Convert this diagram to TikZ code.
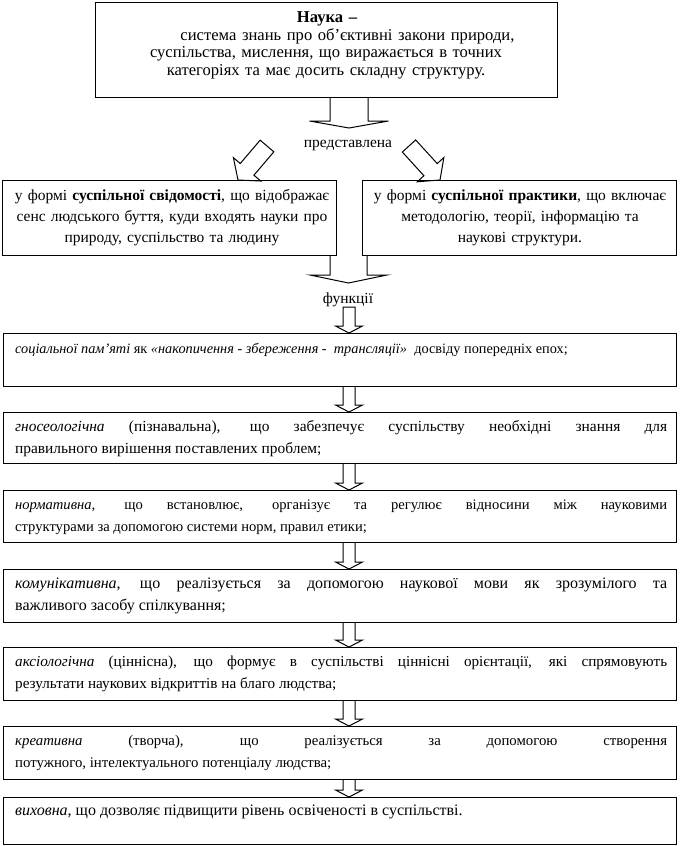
\documentclass[tikz,border=0pt]{standalone}
\usepackage{fontspec}
\setmainfont{Liberation Serif}
\usetikzlibrary{calc}
\newcommand\blockarr[6]{%
  \coordinate (bahead) at ($(#2)!#5!(#1)$);
  \draw[blk] ($(#1)!#3!90:(#2)$) -- ($(bahead)!#3!90:(#2)$) -- ($(bahead)!#4!90:(#2)$) -- (#2) -- ($(bahead)!#4!-90:(#2)$) -- ($(bahead)!#3!-90:(#2)$) -- ($(#1)!#3!-90:(#2)$) #6;
}
\newcommand\fs[1]{\fontsize{#1}{22}\selectfont}
\tikzset{
  frame/.style={draw, line width=1.1pt, inner sep=0pt, anchor=north west},
  blk/.style={draw, line width=1pt, line join=miter},
  ftxt/.style={inner sep=0pt, anchor=base west, text width=652pt, align=justify, font=\fontsize{14.5}{22}\selectfont},
  mtxt/.style={inner sep=0pt, anchor=base, text width=330pt, align=center, font=\fontsize{15.5}{21}\selectfont},
  ttxt/.style={inner sep=0pt, anchor=base, text width=460pt, align=center, font=\fontsize{16.6}{17.5}\selectfont},
  lbl/.style={inner sep=0pt, font=\fontsize{15.5}{18}\selectfont},
}
\begin{document}
\begin{tikzpicture}[x=1pt,y=-1pt]
\useasboundingbox (0,0) rectangle (682,846);
% top box
\node[frame, minimum width=462pt, minimum height=95pt] (nauka) at (95,2) {};
\node[ttxt, font=\fontsize{16.6}{17.5}\selectfont\bfseries] (naukah) at (327,22) {Наука –};
\node[ttxt] (naukab) at (326,40) {\hspace*{43pt}система знань про об'єктивні закони природи,\\суспільства, мислення, що виражається в точних\\категоріях та має досить складну структуру.};
\coordinate (a0s) at (349,97);
\coordinate (a0e) at (349,128);
\blockarr{a0s}{a0e}{19pt}{39.5pt}{7pt}{}
\node[lbl] (pred) at (348,145) {представлена};
% diagonal arrows
\coordinate (dls) at (267,146);
\coordinate (dle) at (238,180);
\blockarr{dls}{dle}{9pt}{18pt}{14pt}{-- cycle}
\coordinate (drs) at (409,146);
\coordinate (dre) at (440,180);
\blockarr{drs}{dre}{9pt}{18pt}{14pt}{-- cycle}
% middle boxes
\node[frame, minimum width=334pt, minimum height=75pt] (svid) at (2,180) {};
\node[mtxt] (svidt) at (172,200) {у формі \textbf{суспільної свідомості}, що відображає\\сенс людського буття, куди входять науки про\\природу, суспільство та людину};
\node[frame, minimum width=314pt, minimum height=75pt] (prak) at (362,180) {};
\node[mtxt] (prakt) at (520,200) {у формі \textbf{суспільної практики}, що включає\\методологію, теорії, інформацію та\\наукові структури.};
\coordinate (a1s) at (348.5,255);
\coordinate (a1e) at (348.5,283);
\blockarr{a1s}{a1e}{18.5pt}{38.5pt}{8pt}{}
\node[lbl] (funk) at (348,300) {функції};
\coordinate (a2s) at (349,307);
\coordinate (a2e) at (349,333);
\blockarr{a2s}{a2e}{6pt}{13.5pt}{7pt}{-- cycle}
% function boxes
\node[frame, minimum width=673pt, minimum height=53pt] (f1) at (3,333) {};
\node[ftxt, font=\fs{14.3}] (f1t) at (15,353) {\textit{соціальної пам'яті} як \textit{«накопичення - збереження -\ \ трансляції»}\ \ досвіду попередніх епох;};
\node[frame, minimum width=673pt, minimum height=51pt] (f2) at (3,412) {};
\node[ftxt, font=\fs{15.4}] (f2t) at (15,431) {\textit{гносеологічна} (пізнавальна), що забезпечує суспільству необхідні знання для\linebreak правильного вирішення поставлених проблем;};
\node[frame, minimum width=673pt, minimum height=52pt] (f3) at (3,490) {};
\node[ftxt, font=\fs{14.6}] (f3t) at (15,509) {\textit{нормативна}, що встановлює, організує та регулює відносини між науковими\linebreak структурами за допомогою системи норм, правил етики;};
\node[frame, minimum width=673pt, minimum height=53pt] (f4) at (3,569) {};
\node[ftxt, font=\fs{16}] (f4t) at (15,588) {\textit{комунікативна}, що реалізується за допомогою наукової мови як зрозумілого та\linebreak важливого засобу спілкування;};
\node[frame, minimum width=673pt, minimum height=53pt] (f5) at (3,647) {};
\node[ftxt, font=\fs{15.2}] (f5t) at (15,666) {\textit{аксіологічна} (ціннісна), що формує в суспільстві ціннісні орієнтації, які спрямовують\linebreak результати наукових відкриттів на благо людства;};
\node[frame, minimum width=673pt, minimum height=53pt] (f6) at (3,726) {};
\node[ftxt, font=\fs{14.8}] (f6t) at (15,745) {\textit{креативна} (творча), що реалізується за допомогою створення\linebreak потужного, інтелектуального потенціалу людства;};
\node[frame, minimum width=673pt, minimum height=47pt] (f7) at (3,797) {};
\node[ftxt, font=\fs{16}] (f7t) at (15,815) {\textit{виховна}, що дозволяє підвищити рівень освіченості в суспільстві.};
% arrows between function boxes
\coordinate (b1s) at (349,386);
\coordinate (b1e) at (349,412);
\blockarr{b1s}{b1e}{6pt}{13.5pt}{7pt}{}
\coordinate (b2s) at (349,463);
\coordinate (b2e) at (349,490);
\blockarr{b2s}{b2e}{6pt}{13.5pt}{7pt}{}
\coordinate (b3s) at (349,542);
\coordinate (b3e) at (349,569);
\blockarr{b3s}{b3e}{6pt}{13.5pt}{7pt}{}
\coordinate (b4s) at (349,622);
\coordinate (b4e) at (349,647);
\blockarr{b4s}{b4e}{6pt}{13.5pt}{7pt}{}
\coordinate (b5s) at (349,700);
\coordinate (b5e) at (349,726);
\blockarr{b5s}{b5e}{6pt}{13.5pt}{7pt}{}
\coordinate (b6s) at (349,779);
\coordinate (b6e) at (349,797);
\blockarr{b6s}{b6e}{6pt}{13.5pt}{7pt}{}
\end{tikzpicture}
\end{document}
